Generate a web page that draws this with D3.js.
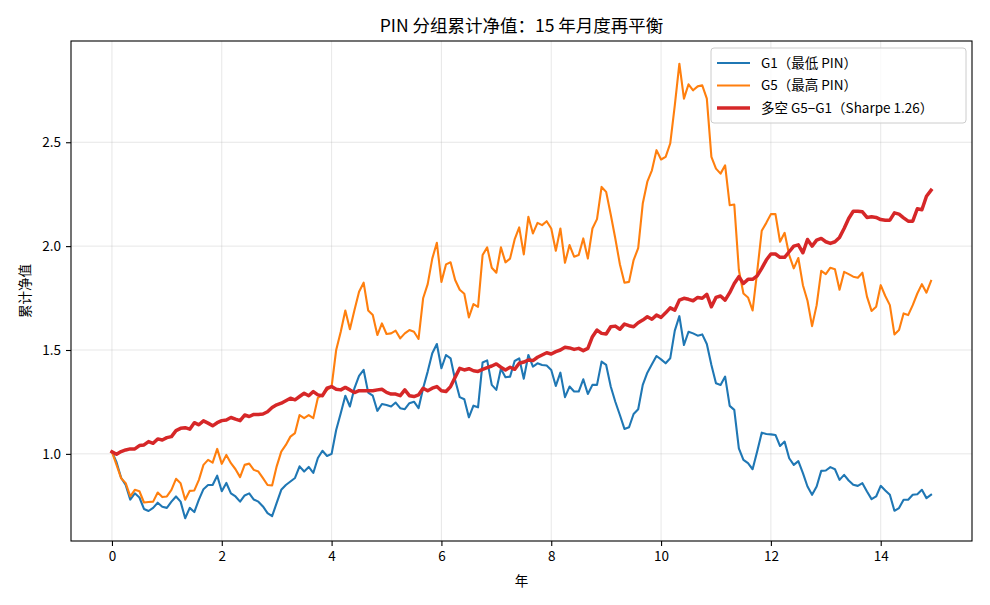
<!DOCTYPE html>
<html>
<head>
<meta charset="utf-8">
<script src="https://cdn.jsdelivr.net/npm/d3@7"></script>
<style>
  body { margin: 0; background: #fff; }
  svg text { font-family: "Noto Sans CJK SC", "DejaVu Sans", sans-serif; fill: #000; }
</style>
</head>
<body>
<div id="chart"></div>
<script>
// monthly net values, 180 months (15 years)
const g1Values = [
  1.01, 0.96, 0.885, 0.85, 0.78, 0.81, 0.79, 0.735, 0.725, 0.74, 0.765, 0.745, 0.74, 0.77, 0.795, 0.77, 0.69, 0.74, 0.72, 0.78, 0.83, 0.85, 0.85, 0.895, 0.82, 0.86, 0.81, 0.795, 0.77, 0.80, 0.81,
  0.78, 0.77, 0.747, 0.715, 0.70, 0.764, 0.827, 0.85, 0.867, 0.884, 0.94, 0.915, 0.937, 0.908, 0.98, 1.015, 0.99, 1.0, 1.115, 1.196, 1.28, 1.228, 1.317, 1.375, 1.404, 1.295, 1.28, 1.207, 1.24,
  1.235, 1.228, 1.247, 1.22, 1.215, 1.244, 1.251, 1.22, 1.316, 1.396, 1.484, 1.529, 1.412, 1.476, 1.46, 1.356, 1.273, 1.263, 1.176, 1.232, 1.224, 1.44, 1.45, 1.332, 1.308, 1.41, 1.369, 1.372, 1.447, 1.46, 1.362,
  1.476, 1.42, 1.436, 1.428, 1.425, 1.404, 1.327, 1.391, 1.273, 1.324, 1.30, 1.30, 1.359, 1.288, 1.332, 1.332, 1.444, 1.428, 1.324, 1.251, 1.187, 1.12, 1.128, 1.192, 1.215, 1.332, 1.391, 1.431, 1.471, 1.455, 1.436,
  1.46, 1.593, 1.663, 1.524, 1.588, 1.58, 1.569, 1.575, 1.529, 1.428, 1.34, 1.332, 1.372, 1.231, 1.212, 1.027, 0.971, 0.955, 0.926, 1.011, 1.102, 1.096, 1.094, 1.091, 1.038, 1.059, 0.979, 0.947, 0.965,
  0.907, 0.843, 0.803, 0.843, 0.918, 0.92, 0.936, 0.926, 0.875, 0.899, 0.872, 0.851, 0.846, 0.859, 0.819, 0.782, 0.795, 0.846, 0.824, 0.803, 0.726, 0.739, 0.779, 0.779, 0.803, 0.806, 0.827, 0.787, 0.803
]

const g5Values = [
  1.01, 0.947, 0.883, 0.859, 0.795, 0.827, 0.82, 0.766, 0.768, 0.77, 0.814, 0.792, 0.795, 0.827, 0.88, 0.859, 0.779, 0.822, 0.824, 0.875, 0.947, 0.971, 0.958, 1.024, 0.952, 0.995, 0.955, 0.926, 0.888, 0.947, 0.953,
  0.923, 0.915, 0.883, 0.85, 0.848, 0.94, 1.011, 1.043, 1.083, 1.10, 1.187, 1.172, 1.187, 1.172, 1.27, 1.284, 1.308, 1.324, 1.50, 1.588, 1.69, 1.60, 1.692, 1.78, 1.824, 1.69, 1.668, 1.572, 1.628,
  1.577, 1.58, 1.593, 1.556, 1.58, 1.596, 1.588, 1.553, 1.749, 1.817, 1.94, 2.016, 1.828, 1.912, 1.922, 1.837, 1.79, 1.771, 1.657, 1.721, 1.708, 1.957, 1.994, 1.896, 1.872, 1.994, 1.922, 1.94, 2.032, 2.09, 1.96,
  2.141, 2.061, 2.112, 2.101, 2.12, 2.085, 1.978, 2.085, 1.92, 2.005, 1.949, 1.957, 2.037, 1.94, 2.085, 2.13, 2.285, 2.261, 2.152, 2.037, 1.913, 1.824, 1.828, 1.933, 1.99, 2.205, 2.31, 2.365, 2.462, 2.417, 2.43,
  2.494, 2.678, 2.878, 2.71, 2.779, 2.75, 2.769, 2.774, 2.71, 2.43, 2.373, 2.349, 2.389, 2.197, 2.20, 1.885, 1.772, 1.753, 1.69, 1.876, 2.074, 2.112, 2.154, 2.154, 2.021, 2.064, 1.957, 1.893, 1.943,
  1.812, 1.737, 1.615, 1.716, 1.881, 1.865, 1.896, 1.889, 1.79, 1.876, 1.865, 1.853, 1.848, 1.872, 1.757, 1.688, 1.708, 1.812, 1.76, 1.716, 1.575, 1.596, 1.676, 1.668, 1.716, 1.772, 1.817, 1.776, 1.833
]

const lsValues = [
  1.01, 0.998, 1.011, 1.019, 1.024, 1.024, 1.04, 1.043, 1.059, 1.051, 1.072, 1.067, 1.078, 1.083, 1.112, 1.123, 1.126, 1.119, 1.15, 1.14, 1.159, 1.148, 1.135, 1.15, 1.16, 1.163, 1.175, 1.167, 1.16, 1.187, 1.18,
  1.19, 1.19, 1.192, 1.203, 1.223, 1.236, 1.244, 1.256, 1.268, 1.26, 1.276, 1.292, 1.28, 1.30, 1.284, 1.28, 1.316, 1.324, 1.311, 1.308, 1.32, 1.308, 1.295, 1.304, 1.304, 1.304, 1.304, 1.308, 1.311,
  1.296, 1.288, 1.288, 1.28, 1.308, 1.28, 1.276, 1.284, 1.316, 1.304, 1.316, 1.324, 1.304, 1.30, 1.324, 1.369, 1.412, 1.404, 1.41, 1.40, 1.397, 1.407, 1.415, 1.423, 1.433, 1.417, 1.404, 1.417, 1.407, 1.436, 1.442,
  1.452, 1.449, 1.465, 1.476, 1.487, 1.481, 1.492, 1.50, 1.513, 1.51, 1.503, 1.508, 1.497, 1.508, 1.564, 1.596, 1.58, 1.577, 1.612, 1.615, 1.60, 1.625, 1.617, 1.612, 1.631, 1.644, 1.66, 1.648, 1.668, 1.657, 1.679,
  1.703, 1.692, 1.74, 1.749, 1.744, 1.737, 1.753, 1.749, 1.768, 1.708, 1.753, 1.76, 1.74, 1.776, 1.82, 1.853, 1.82, 1.84, 1.84, 1.857, 1.893, 1.933, 1.962, 1.962, 1.946, 1.946, 1.973, 2.0, 2.006,
  1.968, 2.032, 2.0, 2.029, 2.037, 2.021, 2.013, 2.021, 2.042, 2.085, 2.133, 2.168, 2.168, 2.165, 2.138, 2.141, 2.138, 2.128, 2.125, 2.125, 2.16, 2.154, 2.136, 2.12, 2.12, 2.18, 2.175, 2.24, 2.269
]

const seriesNames = ["G1（最低 PIN）", "G5（最高 PIN）", "多空 G5−G1（Sharpe 1.26）"]
const seriesColors = ["#1f77b4", "#ff7f0e", "#d62728"]
const seriesWidths = [2.1, 2.1, 3.5]
const xTicks = [0, 2, 4, 6, 8, 10, 12, 14]
const yTicks = [1.0, 1.5, 2.0, 2.5]
const titleText = "PIN 分组累计净值：15 年月度再平衡"
const xLabel = "年"
const yLabel = "累计净值"

// years since start
const xAccessor = (d, i) => i / 12

const allSeries = [g1Values, g5Values, lsValues]

const dimensions = {
  width: 990,
  height: 605,
  margin: { top: 41, right: 18, bottom: 64, left: 71 },
}
dimensions.boundedWidth = dimensions.width - dimensions.margin.left - dimensions.margin.right
dimensions.boundedHeight = dimensions.height - dimensions.margin.top - dimensions.margin.bottom

const svg = d3.select("#chart").append("svg")
  .attr("width", dimensions.width)
  .attr("height", dimensions.height)

const bounds = svg.append("g")
  .attr("transform", `translate(${dimensions.margin.left},${dimensions.margin.top})`)

// scales with matplotlib-like 5% padding
const xMax = (g1Values.length - 1) / 12
const xPad = xMax * 0.05
const xScale = d3.scaleLinear()
  .domain([-xPad, xMax + xPad])
  .range([0, dimensions.boundedWidth])

const allVals = allSeries.flat()
const yMin = d3.min(allVals), yMax = d3.max(allVals)
const yPad = (yMax - yMin) * 0.05
const yScale = d3.scaleLinear()
  .domain([yMin - yPad, yMax + yPad])
  .range([dimensions.boundedHeight, 0])

// grid
bounds.append("g")
  .selectAll("line")
  .data(xTicks)
  .join("line")
    .attr("x1", d => xScale(d)).attr("x2", d => xScale(d))
    .attr("y1", 0).attr("y2", dimensions.boundedHeight)
    .attr("stroke", "#b0b0b0").attr("stroke-opacity", 0.3).attr("stroke-width", 1)

bounds.append("g")
  .selectAll("line")
  .data(yTicks)
  .join("line")
    .attr("y1", d => yScale(d)).attr("y2", d => yScale(d))
    .attr("x1", 0).attr("x2", dimensions.boundedWidth)
    .attr("stroke", "#b0b0b0").attr("stroke-opacity", 0.3).attr("stroke-width", 1)

// lines
const lineGenerator = d3.line()
  .x((d, i) => xScale(xAccessor(d, i)))
  .y(d => yScale(d))

allSeries.forEach((s, k) => {
  bounds.append("path")
    .attr("d", lineGenerator(s))
    .attr("fill", "none")
    .attr("stroke", seriesColors[k])
    .attr("stroke-width", seriesWidths[k])
    .attr("stroke-linejoin", "round")
    .attr("stroke-linecap", "square")
})

// axes
const xAxisGenerator = d3.axisBottom(xScale)
  .tickValues(xTicks)
  .tickSize(5)
  .tickPadding(5)
  .tickFormat(d3.format("d"))

const xAxis = bounds.append("g")
  .attr("transform", `translate(0,${dimensions.boundedHeight})`)
  .call(xAxisGenerator)
xAxis.select(".domain").remove()
xAxis.selectAll("text").style("font-size", "13.5px")
xAxis.selectAll("line").attr("stroke", "#000").attr("stroke-width", 1.1)

const yAxisGenerator = d3.axisLeft(yScale)
  .tickValues(yTicks)
  .tickSize(5)
  .tickPadding(5)
  .tickFormat(d3.format(".1f"))

const yAxis = bounds.append("g").call(yAxisGenerator)
yAxis.select(".domain").remove()
yAxis.selectAll("text").style("font-size", "13.5px")
yAxis.selectAll("line").attr("stroke", "#000").attr("stroke-width", 1.1)

// frame
bounds.append("rect")
  .attr("width", dimensions.boundedWidth)
  .attr("height", dimensions.boundedHeight)
  .attr("fill", "none")
  .attr("stroke", "#000")
  .attr("stroke-width", 1.1)

// labels
svg.append("text")
  .attr("x", dimensions.margin.left + dimensions.boundedWidth / 2)
  .attr("y", 32)
  .attr("text-anchor", "middle")
  .style("font-size", "17.5px")
  .text(titleText)

svg.append("text")
  .attr("x", dimensions.margin.left + dimensions.boundedWidth / 2)
  .attr("y", 586)
  .attr("text-anchor", "middle")
  .style("font-size", "13.5px")
  .text(xLabel)

svg.append("text")
  .attr("transform", `translate(30,${dimensions.margin.top + dimensions.boundedHeight / 2}) rotate(-90)`)
  .attr("text-anchor", "middle")
  .style("font-size", "13.5px")
  .text(yLabel)

// legend
const legendGroup = svg.append("g")
  .attr("transform", "translate(711,48)")

legendGroup.append("rect")
  .attr("width", 255)
  .attr("height", 75)
  .attr("rx", 3)
  .attr("fill", "#fff")
  .attr("fill-opacity", 0.8)
  .attr("stroke", "#cccccc")
  .attr("stroke-width", 1)

seriesNames.forEach((name, k) => {
  const y = 15 + k * 22.5
  legendGroup.append("line")
    .attr("x1", 6).attr("x2", 39)
    .attr("y1", y).attr("y2", y)
    .attr("stroke", seriesColors[k])
    .attr("stroke-width", seriesWidths[k])
  legendGroup.append("text")
    .attr("x", 50).attr("y", y)
    .attr("dy", "0.35em")
    .style("font-size", "13.5px")
    .text(name)
})
</script>
</body>
</html>
